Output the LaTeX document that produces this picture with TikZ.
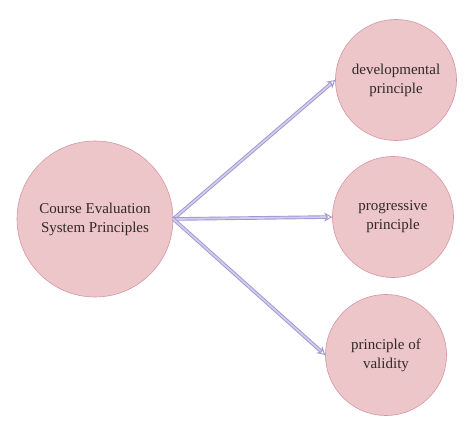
\documentclass[tikz,border=0pt]{standalone}
\usepackage{fontspec}
\setmainfont{Liberation Serif}
\usetikzlibrary{positioning, arrows.meta}
\definecolor{bubbleF}{RGB}{236,198,200}
\definecolor{bubbleD}{RGB}{214,150,166}
\definecolor{linkD}{RGB}{160,150,210}
\definecolor{linkF}{RGB}{208,204,236}
\definecolor{ink}{RGB}{50,40,40}
\tikzset{
  bubble/.style ={circle, draw=bubbleD, fill=bubbleF, line width=0.6pt,
                  align=center, text=ink, font=\fontsize{15}{19}\selectfont,
                  inner sep=0pt},
  hub/.style    ={bubble, minimum size=156pt},
  leaf/.style   ={bubble, minimum size=121pt},
  link/.style   ={draw=linkD, double=linkF, double distance=1.8pt,
                  line width=0.9pt, -{Stealth[open, length=8pt, width=9pt]}},
}
\begin{document}
\begin{tikzpicture}[x=1pt, y=1pt]
\useasboundingbox (0,0) rectangle (474,434);

% centre circle
\node[hub] (CESP) at (95,215) {Course Evaluation\\System Principles};

% three principles on the right
\node[leaf] (DEV)  at (396,354) {developmental\\principle};
\node[leaf] (PROG) at (393,217) {progressive\\principle};
\node[leaf] (VAL)  at (386,79)  {principle of\\validity};

% links from the centre
\foreach \p in {DEV, PROG, VAL}
  \draw[link] (CESP.east) -- (\p.west);

\end{tikzpicture}
\end{document}
